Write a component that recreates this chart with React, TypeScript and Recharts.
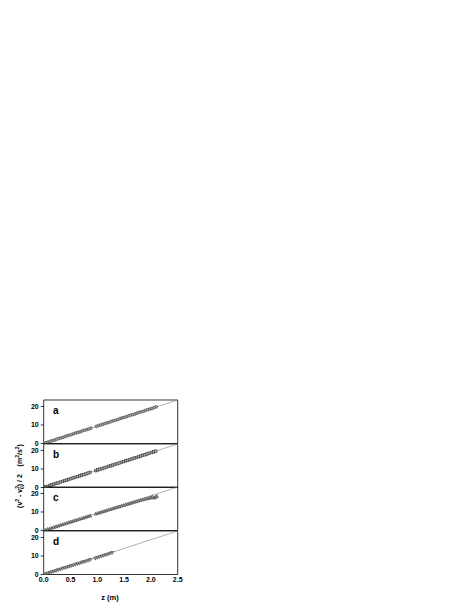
import React from 'react';
import { ScatterChart, Scatter, XAxis, YAxis } from 'recharts';

// z (m) positions and (v^2 - v0^2)/2 values
const Z_A = [0.04, 0.08, 0.12, 0.16, 0.2, 0.24, 0.28, 0.32, 0.36, 0.4, 0.44, 0.48, 0.52, 0.56, 0.6, 0.64, 0.68, 0.72, 0.76, 0.8, 0.84, 0.88,
  0.98, 1.02, 1.06, 1.1, 1.14, 1.18, 1.22, 1.26, 1.3, 1.34, 1.38, 1.42, 1.46, 1.5, 1.54, 1.58, 1.62, 1.66, 1.7, 1.74, 1.78, 1.82, 1.86, 1.9, 1.94, 1.98, 2.02, 2.06, 2.1];
const V_A = [0.4, 0.7, 1.2, 1.5, 1.8, 2.3, 2.7, 3.0, 3.3, 3.8, 4.2, 4.5, 4.8, 5.3, 5.7, 6.0, 6.3, 6.8, 7.2, 7.5, 7.8, 8.3,
  9.2, 9.7, 10.0, 10.3, 10.8, 11.1, 11.4, 11.9, 12.3, 12.6, 12.9, 13.4, 13.8, 14.1, 14.4, 14.9, 15.3, 15.6, 15.9, 16.4, 16.8, 17.1, 17.4, 17.9, 18.3, 18.6, 18.9, 19.4, 19.8];

const Z_B = [0.03, 0.07, 0.11, 0.15, 0.19, 0.23, 0.27, 0.31, 0.35, 0.39, 0.43, 0.47, 0.51, 0.55, 0.59, 0.63, 0.67, 0.71, 0.75, 0.79, 0.83, 0.87,
  0.97, 1.01, 1.05, 1.09, 1.13, 1.17, 1.21, 1.25, 1.29, 1.33, 1.37, 1.41, 1.45, 1.49, 1.53, 1.57, 1.61, 1.65, 1.69, 1.73, 1.77, 1.81, 1.85, 1.89, 1.93, 1.97, 2.01, 2.05, 2.09];
const V_B = [0.3, 0.6, 1.1, 1.4, 1.8, 2.2, 2.5, 2.9, 3.3, 3.7, 4.0, 4.4, 4.8, 5.2, 5.5, 5.9, 6.3, 6.7, 7.0, 7.4, 7.8, 8.2,
  9.1, 9.5, 9.9, 10.2, 10.6, 11.0, 11.4, 11.7, 12.1, 12.5, 12.9, 13.2, 13.6, 14.0, 14.4, 14.7, 15.1, 15.5, 15.9, 16.2, 16.6, 17.0, 17.4, 17.7, 18.1, 18.5, 18.9, 19.2, 19.6];

const Z_C = [0.03, 0.07, 0.11, 0.15, 0.19, 0.23, 0.27, 0.31, 0.35, 0.39, 0.43, 0.47, 0.51, 0.55, 0.59, 0.63, 0.67, 0.71, 0.75, 0.79, 0.83, 0.87,
  0.97, 1.01, 1.05, 1.09, 1.13, 1.17, 1.21, 1.25, 1.29, 1.33, 1.37, 1.41, 1.45, 1.49, 1.53, 1.57, 1.61, 1.65, 1.69, 1.73, 1.77, 1.81, 1.85, 1.89, 1.93, 1.97, 2.0, 2.03, 2.06, 2.09, 2.11];
const V_C = [0.3, 0.7, 1.0, 1.4, 1.8, 2.1, 2.5, 2.9, 3.3, 3.6, 4.0, 4.4, 4.7, 5.1, 5.5, 5.8, 6.2, 6.6, 6.9, 7.3, 7.7, 8.0,
  9.0, 9.4, 9.7, 10.1, 10.4, 10.8, 11.2, 11.5, 11.9, 12.2, 12.6, 12.9, 13.3, 13.6, 14.0, 14.3, 14.7, 15.0, 15.4, 15.7, 16.1, 16.4, 16.7, 17.0, 17.3, 17.5, 17.8, 18.3, 17.6, 18.1, 18.6];

const Z_D = [0.03, 0.07, 0.11, 0.15, 0.19, 0.23, 0.27, 0.31, 0.35, 0.39, 0.43, 0.47, 0.51, 0.55, 0.59, 0.63, 0.67, 0.71, 0.75, 0.79, 0.83, 0.87,
  0.96, 1.0, 1.04, 1.08, 1.12, 1.16, 1.2, 1.24, 1.28];
const V_D = [0.3, 0.6, 1.0, 1.4, 1.7, 2.1, 2.5, 2.8, 3.2, 3.6, 3.9, 4.3, 4.7, 5.0, 5.4, 5.8, 6.1, 6.5, 6.9, 7.2, 7.6, 8.0,
  8.7, 9.1, 9.5, 9.9, 10.3, 10.6, 11.0, 11.4, 11.8];

const FIT_Z = [0, 2.5];
const FIT_V = [0, 23.5];

const X_TICKS = [0, 0.5, 1.0, 1.5, 2.0, 2.5];
const X_MINOR = [0, 0.25, 0.5, 0.75, 1.0, 1.25, 1.5, 1.75, 2.0, 2.25, 2.5];
const Y_TICKS = [0, 10, 20];
const Y_MINOR = [0, 5, 10, 15, 20];
const PANEL_LABELS = ['a', 'b', 'c', 'd'];

const FONT = '"Liberation Sans", Arial, sans-serif';
const toPoints = (zs: number[], vs: number[]) => zs.map((z, i) => ({ z, v: vs[i] }));

const fitData = toPoints(FIT_Z, FIT_V);

const MARK_FILL = '#a8a8a8';
const MARK_STROKE = '#3a3a3a';

const Circle = (p: any) => <circle cx={p.cx} cy={p.cy} r={1.4} fill={MARK_FILL} stroke={MARK_STROKE} strokeWidth={0.6} />;
const Square = (p: any) => <rect x={p.cx - 1.3} y={p.cy - 1.3} width={2.6} height={2.6} fill={MARK_FILL} stroke={MARK_STROKE} strokeWidth={0.6} />;
const TriUp = (p: any) => <path d={`M${p.cx},${p.cy - 1.7}L${p.cx + 1.6},${p.cy + 1.2}L${p.cx - 1.6},${p.cy + 1.2}Z`} fill={MARK_FILL} stroke={MARK_STROKE} strokeWidth={0.6} />;
const TriDown = (p: any) => <path d={`M${p.cx},${p.cy + 1.7}L${p.cx + 1.6},${p.cy - 1.2}L${p.cx - 1.6},${p.cy - 1.2}Z`} fill={MARK_FILL} stroke={MARK_STROKE} strokeWidth={0.6} />;
const NoDot = () => <g />;

const panels = [
  { data: toPoints(Z_A, V_A), shape: Circle },
  { data: toPoints(Z_B, V_B), shape: Square },
  { data: toPoints(Z_C, V_C), shape: TriUp },
  { data: toPoints(Z_D, V_D), shape: TriDown },
];

const PLOT_LEFT = 43.7;
const PLOT_RIGHT = 177.7;
const PLOT_TOP = 400;
const PANEL_H = 43.5;
const CHART_W = 190;
const PAD = 4;
const THIN = 0.01; // axis band thickness, so mirrored axes sit on the frame

const tickFont = { fontSize: 7, fontWeight: 700, fill: '#000', fontFamily: FONT };
const axisLine = { stroke: '#000', strokeWidth: 0.8 };

const Panel: React.FC<{ idx: number }> = ({ idx }) => {
  const p = panels[idx];
  const last = idx === panels.length - 1;
  const bottomPad = last ? 20 : PAD;
  return (
    <div style={{ position: 'absolute', left: 0, top: PLOT_TOP + idx * PANEL_H - PAD }}>
      <ScatterChart
        width={CHART_W}
        height={PANEL_H + PAD + bottomPad}
        margin={{ top: PAD - THIN, right: CHART_W - PLOT_RIGHT - THIN, bottom: bottomPad - (last ? 2 : 1) * THIN, left: PLOT_LEFT - 20 }}
      >
        <XAxis xAxisId="main" dataKey="z" type="number" domain={[0, 2.5]} ticks={X_MINOR} allowDataOverflow interval={0}
          height={THIN} mirror tickSize={2} tick={false} axisLine={axisLine} tickLine={axisLine} />
        <XAxis xAxisId="top" orientation="top" dataKey="z" type="number" domain={[0, 2.5]} ticks={X_TICKS} allowDataOverflow interval={0}
          height={THIN} mirror tickSize={3} tick={false} axisLine={axisLine} tickLine={axisLine} />
        {last && (
          <XAxis xAxisId="labels" dataKey="z" type="number" domain={[0, 2.5]} ticks={X_TICKS} allowDataOverflow interval={0}
            height={THIN} tickSize={0} tickMargin={3} axisLine={false} tickLine={false} tick={tickFont}
            tickFormatter={(t: number) => t.toFixed(1)} />
        )}
        <YAxis yAxisId="main" dataKey="v" type="number" domain={[0, 23.5]} ticks={Y_TICKS} allowDataOverflow interval={0}
          width={20} tickSize={3} tickMargin={2} axisLine={axisLine} tickLine={axisLine} tick={tickFont} />
        <YAxis yAxisId="right" orientation="right" dataKey="v" type="number" domain={[0, 23.5]} ticks={Y_MINOR} allowDataOverflow interval={0}
          width={THIN} mirror tickSize={2} tick={false} axisLine={axisLine} tickLine={axisLine} />
        <Scatter xAxisId="main" yAxisId="main" data={fitData} line={{ stroke: '#808080', strokeWidth: 0.6 }} shape={NoDot} isAnimationActive={false} />
        <Scatter xAxisId="main" yAxisId="main" data={p.data} shape={p.shape} isAnimationActive={false} />
      </ScatterChart>
    </div>
  );
};

const App: React.FC = () => {
  return (
    <div style={{ position: 'absolute', left: 0, top: 0, width: 471, height: 609, background: '#fff' }}>
      {panels.map((_, i) => <Panel key={i} idx={i} />)}
      <svg width={471} height={609} style={{ position: 'absolute', left: 0, top: 0, pointerEvents: 'none' }}>
        {PANEL_LABELS.map((l, i) => (
          <text key={l} x={53} y={PLOT_TOP + 14 + i * PANEL_H} fontFamily={FONT} fontWeight={700} fontSize={10}>{l}</text>
        ))}
        <text x={110} y={600} textAnchor="middle" fontFamily={FONT} fontWeight={700} fontSize={7.5}>z (m)</text>
        <text transform="translate(22, 476) rotate(-90)" textAnchor="middle" fontFamily={FONT} fontWeight={700} fontSize={7}
          style={{ whiteSpace: 'pre' }}>
          <tspan>(v</tspan>
          <tspan fontSize={5} dy={-3}>2</tspan>
          <tspan dy={3}> - v</tspan>
          <tspan fontSize={5} dy={-3}>2</tspan>
          <tspan fontSize={5} dx={-3} dy={5}>0</tspan>
          <tspan dy={-2}>) / 2    (m</tspan>
          <tspan fontSize={5} dy={-3}>2</tspan>
          <tspan dy={3}>/s</tspan>
          <tspan fontSize={5} dy={-3}>2</tspan>
          <tspan dy={3}>)</tspan>
        </text>
      </svg>
    </div>
  );
};

export default App;
